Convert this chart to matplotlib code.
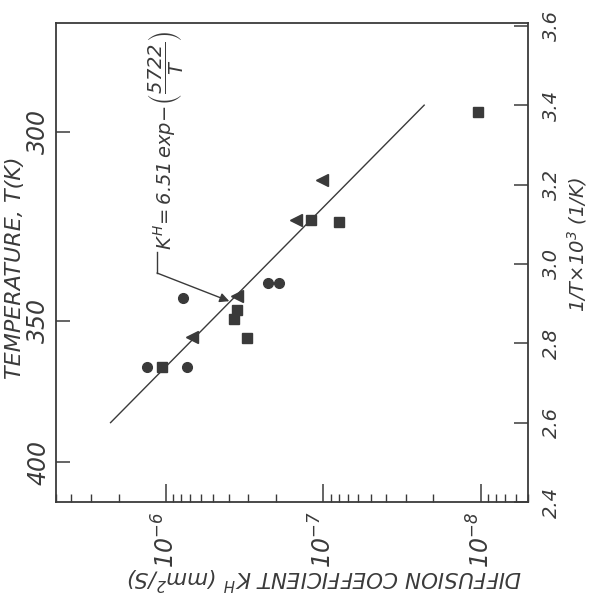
import matplotlib
matplotlib.use("Agg")
import matplotlib.pyplot as plt
from matplotlib.ticker import NullFormatter, FixedLocator
import numpy as np

# data: diffusion coefficient K^H (mm^2/s) vs 1000/T (1/K)
circle_K = [1.32e-6, 7.34e-7, 7.78e-7, 2.26e-7, 1.92e-7]
circle_invT = [2.74, 2.74, 2.914, 2.952, 2.952]

square_K = [1.06e-6, 3.52e-7, 3.68e-7, 3.04e-7, 1.20e-7, 7.96e-8, 1.045e-8]
square_invT = [2.74, 2.884, 2.861, 2.813, 3.110, 3.105, 3.382]

tri_K = [6.82e-7, 3.52e-7, 1.50e-7, 1.02e-7]
tri_invT = [2.816, 2.919, 3.110, 3.211]

# fitted line  K = 6.51 exp(-5722/T), end points
fit_invT = [2.6, 3.4]
fit_K = [2.25e-6, 2.285e-8]

temp_ticks = [300, 350, 400]
invT_ticks = [2.4, 2.6, 2.8, 3.0, 3.2, 3.4, 3.6]
K_ticks = [1e-6, 1e-7, 1e-8]
K_labels = ["$10^{-6}$", "$10^{-7}$", "$10^{-8}$"]

ink = "#3a3a3a"
plt.rcParams["mathtext.fontset"] = "dejavusans"
plt.rcParams["font.style"] = "italic"

fig = plt.figure(figsize=(5.92, 6.03), dpi=100)
ax = fig.add_axes([56/592, 1 - 502/603, 472/592, 479/603])
ax.set_xscale("log")
ax.set_xlim(5e-6, 5e-9)
ax.set_ylim(2.4, 3.607)

for s in ax.spines.values():
    s.set_color(ink)
    s.set_linewidth(1.3)

# fit line
ax.plot(fit_K, fit_invT, color=ink, lw=1.0)

ax.plot(circle_K, circle_invT, "o", ms=7, color=ink, mec=ink)
ax.plot(square_K, square_invT, "s", ms=6.5, color=ink, mec=ink)
ax.plot(tri_K, tri_invT, "<", ms=8, color=ink, mec=ink)

# x axis (log K)
ax.set_xticks(K_ticks)
ax.set_xticklabels(K_labels)
ax.xaxis.set_minor_formatter(NullFormatter())
ax.tick_params(axis="x", which="major", direction="in", length=13, width=1.1,
               color=ink, labelcolor=ink, labelsize=17, labelrotation=90, pad=7,
               top=False)
ax.tick_params(axis="x", which="minor", direction="in", length=6, width=1.0,
               color=ink, top=False)

# left axis: temperature
ax.yaxis.set_major_locator(FixedLocator([1000.0 / t for t in temp_ticks]))
ax.set_yticklabels([str(t) for t in temp_ticks])
ax.tick_params(axis="y", direction="in", length=10, width=1.1, color=ink,
               labelcolor=ink, labelsize=17, pad=4, right=False)
for lab in ax.get_yticklabels():
    lab.set_rotation(90)
    lab.set_va("center")

# right axis: 1/T x 10^3
ax2 = ax.twinx()
ax2.set_ylim(ax.get_ylim())
ax2.set_yticks(invT_ticks)
ax2.set_yticklabels([f"{v:.1f}" for v in invT_ticks])
ax2.tick_params(axis="y", direction="in", length=10, width=1.1, color=ink,
                labelcolor=ink, labelsize=14, pad=10)
for lab in ax2.get_yticklabels():
    lab.set_rotation(90)
    lab.set_va("center")
for s in ax2.spines.values():
    s.set_visible(False)

# axis titles
fig.text(15/592, 1 - 268/603, "TEMPERATURE, T(K)", rotation=90, ha="center",
         va="center", fontsize=16, color=ink)
fig.text(577/592, 1 - 245/603, "1/T×10$^3$ (1/K)", rotation=90, ha="center",
         va="center", fontsize=14, color=ink)
fig.text(325/592, 1 - 578/603, "DIFFUSION COEFFICIENT $K^H$ (mm$^2$/S)",
         rotation=180, ha="center", va="center", fontsize=15.5, color=ink)

# equation with leader arrow
ax.text(1.0e-6, 3.035, r"$K^H\!=6.51\,exp\!-\!\left(\dfrac{5722}{T}\right)$",
        rotation=90, ha="center", va="bottom", fontsize=14, color=ink)
ax.plot([1.14e-6, 1.14e-6], [3.03, 2.977], color=ink, lw=1.0)
ax.annotate("", xy=(3.96e-7, 2.906), xytext=(1.14e-6, 2.977),
            arrowprops=dict(arrowstyle="-|>", color=ink, lw=1.0,
                            mutation_scale=14, shrinkA=0, shrinkB=0))

fig.savefig("out.png", dpi=100, facecolor="white")
